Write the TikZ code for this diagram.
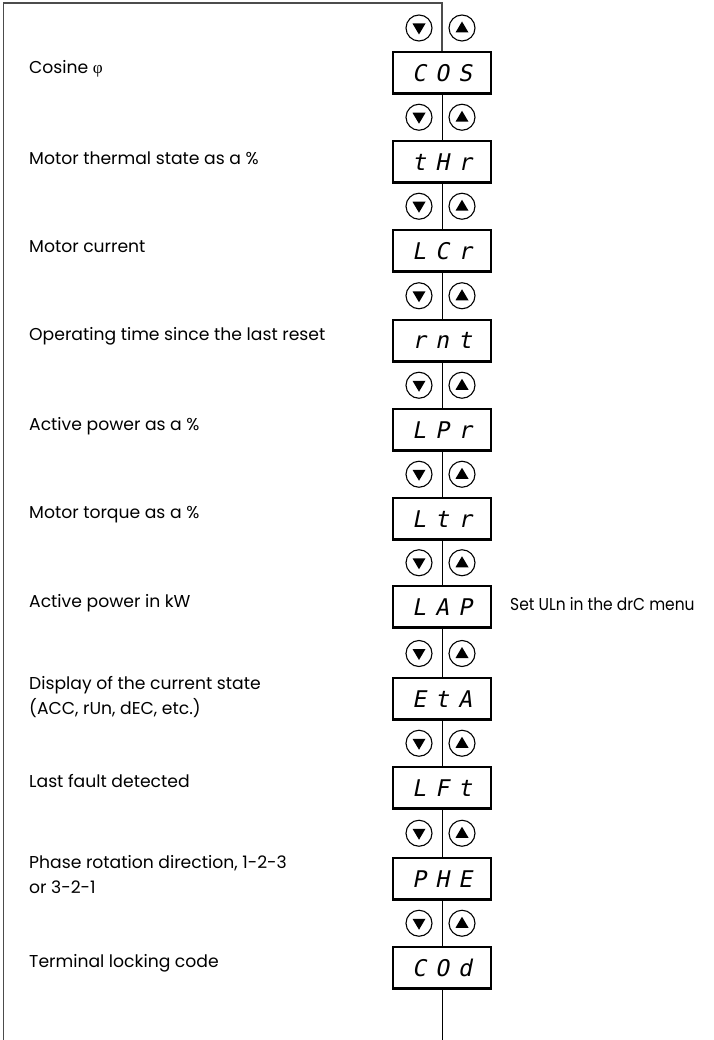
\documentclass[tikz,border=0pt]{standalone}
\usepackage{fontspec}
\setmainfont{Poppins}
\newfontfamily\phifont{Liberation Serif}
\newfontfamily\segfont{DejaVu Sans Mono}[FakeSlant=0.2]
\usetikzlibrary{calc}
\newcommand\segtxt[3]{\makebox[23pt]{#1}\makebox[23pt]{#2}\makebox[23pt]{#3}}
\begin{document}
\begin{tikzpicture}[x=1pt,y=-1pt,
 frame/.style={draw=black!70, line width=1.2pt},
 conn/.style={draw=black, line width=1pt},
 disp/.style={draw, line width=2.6pt, minimum width=98pt, minimum height=41.5pt, inner sep=0pt, font=\segfont\fontsize{23}{23}\selectfont},
 btn/.style={circle, draw, line width=1.1pt, minimum size=26pt, inner sep=0pt},
 dnbtn/.style={btn, path picture={\fill ($(path picture bounding box.center)+(-6.5,-4.5)$) -- ++(13,0) -- ++(-6.5,11) -- cycle;}},
 upbtn/.style={btn, path picture={\fill ($(path picture bounding box.center)+(-6.5,4.5)$) -- ++(13,0) -- ++(-6.5,-11) -- cycle;}},
 lbl/.style={anchor=west, inner sep=0pt, align=left, font=\fontsize{17.2}{25}\selectfont},
 lblnarrow/.style={lbl, font=\fontsize{17.2}{25}\selectfont\addfontfeatures{FakeStretch=0.9}},
]
\useasboundingbox (0,0) rectangle (713,1040);

% display boxes
\node[disp] (b0) at (442,72.75) {\segtxt COS};
\node[disp] (b1) at (442,161.75) {\segtxt tHr};
\node[disp] (b2) at (442,250.75) {\segtxt LCr};
\node[disp] (b3) at (442,340.75) {\segtxt rnt};
\node[disp] (b4) at (442,429.75) {\segtxt LPr};
\node[disp] (b5) at (442,518.75) {\segtxt Ltr};
\node[disp] (b6) at (442,606.75) {\segtxt LAP};
\node[disp] (b7) at (442,698.75) {\segtxt EtA};
\node[disp] (b8) at (442,787.75) {\segtxt LFt};
\node[disp] (b9) at (442,878.75) {\segtxt PHE};
\node[disp] (b10) at (442,967.75) {\segtxt COd};

% frame and connectors
\coordinate (bl) at (3.5,1040);
\coordinate (tl) at (3.5,3);
\coordinate (tc) at (442,3);
\coordinate (bc) at (442,1040);
\draw[frame] (bl) -- (tl) -- (tc) -- (b0.north);
\foreach \a/\b in {0/1,1/2,2/3,3/4,4/5,5/6,6/7,7/8,8/9,9/10}
  \draw[conn] (b\a.south) -- (b\b.north);
\draw[conn] (b10.south) -- (bc);

% buttons
\foreach \i/\y in {0/28,1/117.25,2/206.25,3/295.75,4/385.25,5/474.25,6/562.75,7/653.5,8/743.25,9/833.25,10/923.25}{
  \node[dnbtn] (d\i) at (419,\y) {};
  \node[upbtn] (u\i) at (462,\y) {};
}

% labels
\node[lbl] (l0) at (29,68.75) {Cosine {\phifont φ}};
\node[lbl] (l1) at (29,157.75) {Motor thermal state as a \%};
\node[lbl] (l2) at (29,246.75) {Motor current};
\node[lbl] (l3) at (29,336.75) {Operating time since the last reset};
\node[lbl] (l4) at (29,425.75) {Active power as a \%};
\node[lbl] (l5) at (29,514.75) {Motor torque as a \%};
\node[lbl] (l6) at (29,602.75) {Active power in kW};
\node[lbl] (l7) at (29,697) {Display of the current state\\(ACC, rUn, dEC, etc.)};
\node[lbl] (l8) at (29,781) {Last fault detected};
\node[lbl] (l9) at (29,874.5) {Phase rotation direction, 1-2-3\\or 3-2-1};
\node[lbl] (l10) at (29,963.75) {Terminal locking code};
\node[lblnarrow] (r6) at (510,604) {Set ULn in the drC menu};
\end{tikzpicture}
\end{document}
